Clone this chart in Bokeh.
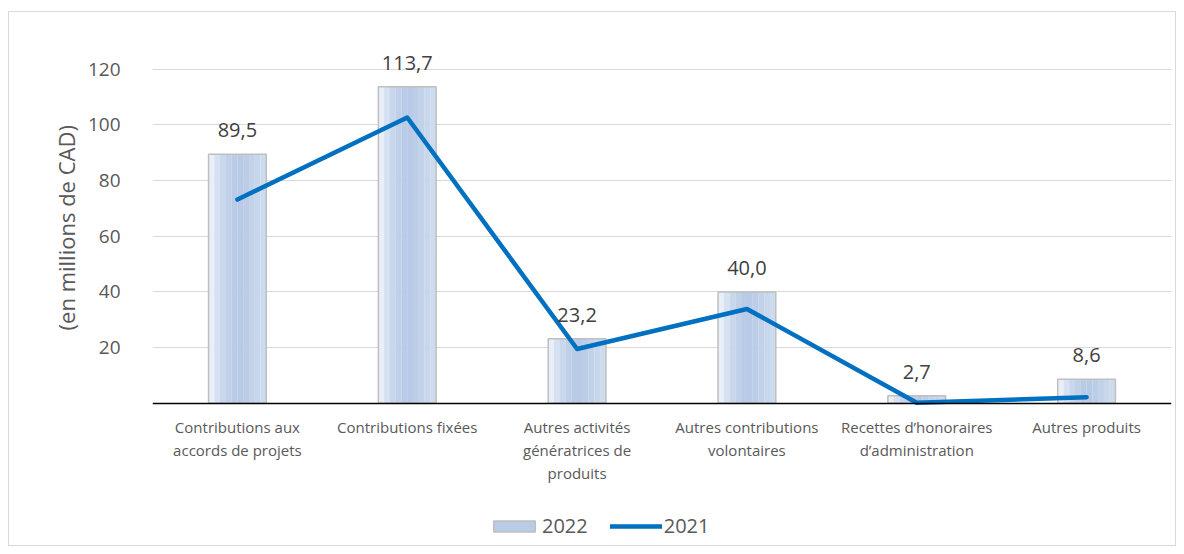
from bokeh.plotting import figure
from bokeh.models import ColumnDataSource, FixedTicker, Legend, LegendItem, Range1d
from bokeh.transform import dodge
from bokeh.embed import file_html
from bokeh.resources import INLINE
from bokeh.core.properties import value

categories = [
    "Contributions aux\naccords de projets",
    "Contributions fixées",
    "Autres activités\ngénératrices de\nproduits",
    "Autres contributions\nvolontaires",
    "Recettes d’honoraires\nd’administration",
    "Autres produits",
]
values_2022 = [89.5, 113.7, 23.2, 40.0, 2.7, 8.6]
values_2021 = [73.2, 102.7, 19.5, 33.9, 0.2, 2.2]
labels_2022 = ["89,5", "113,7", "23,2", "40,0", "2,7", "8,6"]
y_ticks = [20, 40, 60, 80, 100, 120]

src = ColumnDataSource(dict(cat=categories, v22=values_2022, v21=values_2021, lab=labels_2022))

FONT = "Open Sans"
# frame extends below the zero line to hold the category labels and the legend
p = figure(x_range=categories, y_range=Range1d(-51.1, 130),
           frame_width=1019, frame_height=504,
           output_backend="svg", toolbar_location=None,
           min_border_left=143, min_border_right=4, min_border_top=29, min_border_bottom=0)
p.styles = {"border": "1px solid #D9D9D9", "margin-left": "8px", "margin-top": "11px"}
p.outline_line_color = None
p.background_fill_color = "white"

# gradient bars as narrow strips
bar_w = 0.34
strip_colors = ["#E9EFF8", "#D6E2F1", "#C8D7EC", "#BFD0E8", "#B9CBE6",
                "#B8CAE5", "#BBCDE7", "#C1D2E9", "#C8D7EC", "#CDDBEE"]
n = len(strip_colors)
sw = bar_w / n
strip_rs = []
for i, c in enumerate(strip_colors):
    off = -bar_w / 2 + sw * (i + 0.5)
    r = p.vbar(x=dodge("cat", off, range=p.x_range), top="v22", width=sw * 1.02,
               source=src, fill_color=c, line_color=None)
    strip_rs.append(r)
outline = p.vbar(x="cat", top="v22", width=bar_w, source=src, fill_color=None,
                 line_color="#BFBFBF", line_width=1.5)

line = p.line(x="cat", y="v21", source=src, line_color="#0070C0", line_width=4.5,
              line_cap="round", line_join="round")

p.text(x="cat", y="v22", text="lab", source=src, text_align="center",
       text_baseline="bottom", y_offset=-17, text_font=value(FONT),
       text_font_size="20px", text_color="#404040")

p.yaxis.ticker = FixedTicker(ticks=y_ticks)
p.ygrid.ticker = FixedTicker(ticks=y_ticks)
p.ygrid.grid_line_color = "#D9D9D9"
p.xgrid.grid_line_color = None
p.yaxis.axis_line_color = None
p.yaxis.major_tick_line_color = None
p.yaxis.minor_tick_line_color = None
p.yaxis.major_label_text_font = FONT
p.yaxis.major_label_text_font_size = "19px"
p.yaxis.major_label_text_color = "#595959"
p.yaxis.major_label_standoff = 26
p.yaxis.axis_label = "\u00a0" * 23 + "(en millions de CAD)"
p.yaxis.axis_label_text_font = FONT
p.yaxis.axis_label_text_font_size = "22px"
p.yaxis.axis_label_text_font_style = "normal"
p.yaxis.axis_label_text_color = "#595959"
p.yaxis.axis_label_standoff = 4

p.xaxis.fixed_location = 0
p.xaxis.axis_line_color = "black"
p.xaxis.axis_line_width = 1.5
p.xaxis.major_tick_line_color = None
p.xaxis.minor_tick_line_color = None
p.xaxis.major_label_text_font = FONT
p.xaxis.major_label_text_font_size = "15px"
p.xaxis.major_label_text_line_height = 1.15
p.xaxis.major_label_text_color = "#595959"
p.xaxis.major_label_standoff = 8

legend = Legend(items=[LegendItem(label="2022", renderers=[strip_rs[4], outline]),
                       LegendItem(label="2021", renderers=[line])],
                orientation="horizontal", location=(336, 6),
                label_text_font=FONT, label_text_font_size="20px",
                label_text_color="#595959", glyph_width=52, glyph_height=14,
                spacing=22, label_standoff=2, border_line_color=None,
                background_fill_alpha=0, margin=0, padding=4)
p.add_layout(legend, "center")

open("out.html", "w").write(file_html(p, INLINE))
